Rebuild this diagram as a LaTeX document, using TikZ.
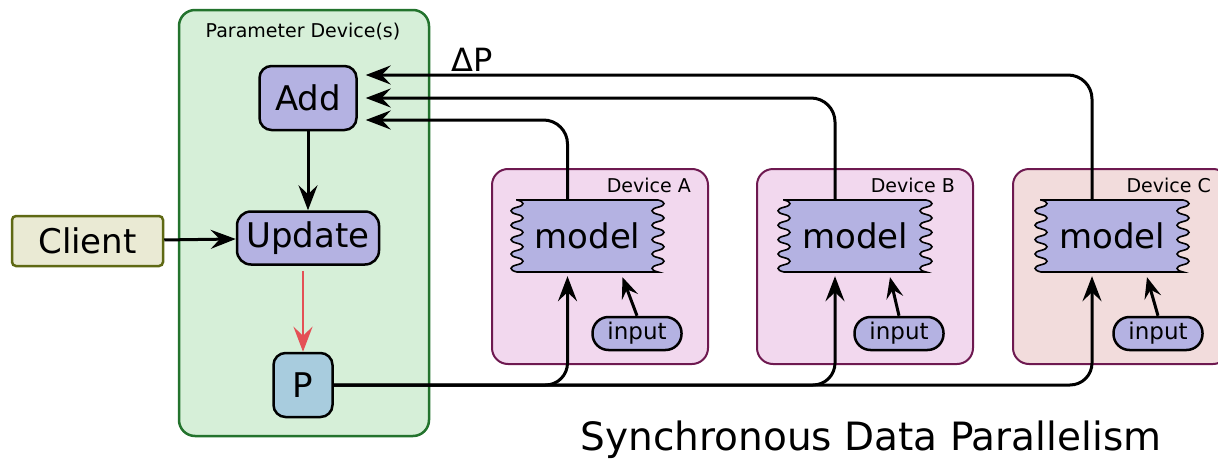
\documentclass[tikz,border=0pt]{standalone}
\usepackage{fontspec}
\setmainfont{DejaVu Sans}
\usetikzlibrary{arrows.meta,positioning}
\definecolor{pgreen}{RGB}{214,239,216}
\definecolor{pgreenline}{RGB}{35,115,45}
\definecolor{lavender}{RGB}{180,178,226}
\definecolor{pblue}{RGB}{168,204,222}
\definecolor{clientfill}{RGB}{234,234,212}
\definecolor{clientline}{RGB}{95,105,20}
\definecolor{devpink}{RGB}{242,216,238}
\definecolor{devsalmon}{RGB}{242,220,220}
\definecolor{devline}{RGB}{110,25,80}
\definecolor{updred}{RGB}{228,80,85}

\begin{document}
\begin{tikzpicture}[x=1pt, y=-1pt, >={Stealth[length=25pt, width=19pt, inset=9pt]}]
    \tikzstyle{op} = [rectangle, rounded corners=12pt, draw=black, line width=2.5pt, fill=lavender, inner sep=0pt, font=\fontsize{34}{40}\selectfont]
    \tikzstyle{device} = [rectangle, rounded corners=16pt, draw=devline, line width=2pt, fill=devpink, minimum width=216pt, minimum height=195pt]
    \tikzstyle{devlabel} = [anchor=base east, inner sep=0pt, font=\fontsize{19}{22}\selectfont]
    \tikzstyle{wavy} = [fill=lavender, draw=black, line width=1.6pt]
    \tikzstyle{model} = [rectangle, minimum width=145pt, minimum height=72pt, inner sep=0pt, font=\fontsize{34}{40}\selectfont]
    \tikzstyle{input} = [rectangle, rounded corners=16pt, draw=black, line width=2.5pt, fill=lavender, minimum width=89pt, minimum height=33pt, inner sep=0pt, font=\fontsize{23}{26}\selectfont]
    \tikzstyle{flow} = [->, line width=3pt, rounded corners=24pt]
    \tikzstyle{feed} = [->, line width=3pt, >={Stealth[length=21pt, width=17pt, inset=8pt]}]

    \useasboundingbox (0,0) rectangle (1218,463);

    % Parameter device
    \node [rectangle, rounded corners=16pt, draw=pgreenline, line width=2.5pt, fill=pgreen, minimum width=250pt, minimum height=426pt] (param) at (304,223) {};
    \node [anchor=base, inner sep=0pt, font=\fontsize{19}{22}\selectfont] (paramlabel) at (303,37) {Parameter Device(s)};
    \node [op, minimum width=97pt, minimum height=64pt] (add) at (308,98) {Add};
    \node [op, minimum width=142pt, minimum height=53pt, rounded corners=14pt, below of=add, node distance=140pt] (update) {Update};
    \node [op, fill=pblue, minimum width=59pt, minimum height=64pt, below of=update, node distance=147pt, xshift=-5pt] (p) {P};

    % Client
    \node [rectangle, rounded corners=4pt, draw=clientline, line width=2.5pt, fill=clientfill, minimum width=151pt, minimum height=50pt, font=\fontsize{34}{40}\selectfont] (client) at (87.5,241) {Client};

    % Worker devices
    \node [device] (devA) at (600,266.5) {};
    \node [device, right of=devA, node distance=265pt] (devB) {};
    \node [device, fill=devsalmon, right of=devB, node distance=256pt] (devC) {};
    \node [devlabel] (labA) at (691,192) {Device A};
    \node [devlabel] (labB) at (955,192) {Device B};
    \node [devlabel] (labC) at (1211,192) {Device C};

    % Models (wavy sides)
    \filldraw [wavy] (517,200) -- (658,200)
        \foreach \i in {1,...,5} { .. controls +(8,1.8) and +(8,-1.8) .. ++(0,7.2) .. controls +(-8,1.8) and +(-8,-1.8) .. ++(0,7.2)}
        -- (517,272)
        \foreach \i in {1,...,5} { .. controls +(-8,-1.8) and +(-8,1.8) .. ++(0,-7.2) .. controls +(8,-1.8) and +(8,1.8) .. ++(0,-7.2)} -- cycle;
    \filldraw [wavy] (784,200) -- (926,200)
        \foreach \i in {1,...,5} { .. controls +(8,1.8) and +(8,-1.8) .. ++(0,7.2) .. controls +(-8,1.8) and +(-8,-1.8) .. ++(0,7.2)}
        -- (784,272)
        \foreach \i in {1,...,5} { .. controls +(-8,-1.8) and +(-8,1.8) .. ++(0,-7.2) .. controls +(8,-1.8) and +(8,1.8) .. ++(0,-7.2)} -- cycle;
    \filldraw [wavy] (1041,200) -- (1183,200)
        \foreach \i in {1,...,5} { .. controls +(8,1.8) and +(8,-1.8) .. ++(0,7.2) .. controls +(-8,1.8) and +(-8,-1.8) .. ++(0,7.2)}
        -- (1041,272)
        \foreach \i in {1,...,5} { .. controls +(-8,-1.8) and +(-8,1.8) .. ++(0,-7.2) .. controls +(8,-1.8) and +(8,1.8) .. ++(0,-7.2)} -- cycle;
    \node [model] (modelA) at (587.5,236) {model};
    \node [model] (modelB) at (855,236) {model};
    \node [model] (modelC) at (1112,236) {model};

    % Inputs
    \node [input] (inputA) at (637,333.5) {input};
    \node [input] (inputB) at (899,333.5) {input};
    \node [input] (inputC) at (1158,333.5) {input};

    % Connections
    \draw [->, line width=3pt] (add) -- (update);
    \draw [->, line width=2.5pt, updred] ([yshift=-5pt]update.south -| p.north) -- (p);
    \draw [->, line width=3pt] (client) -- (update);

    \draw [flow] ([xshift=-20pt]modelA.north) |- ([xshift=8pt,yshift=-22pt]add.east);
    \draw [flow] ([xshift=-20pt]modelB.north) |- ([xshift=8pt]add.east);
    \draw [flow] ([xshift=-20pt]modelC.north) |- ([xshift=8pt,yshift=23pt]add.east);

    \draw [flow, rounded corners=22pt] (p.east) -| ([xshift=-20pt,yshift=-4pt]modelA.south);
    \draw [flow, rounded corners=22pt] (p.east) -| ([xshift=-20pt,yshift=-4pt]modelB.south);
    \draw [flow, rounded corners=22pt] (p.east) -| ([xshift=-20pt,yshift=-4pt]modelC.south);

    \draw [feed] (inputA.north) -- ([xshift=35pt,yshift=-5pt]modelA.south);
    \draw [feed] (inputB.north) -- ([xshift=35pt,yshift=-5pt]modelB.south);
    \draw [feed] (inputC.north) -- ([xshift=35pt,yshift=-5pt]modelC.south);

    % Labels
    \node [font=\fontsize{32}{38}\selectfont] (delta) at (472,60) {ΔP};
    \node [font=\fontsize{39}{46}\selectfont] (title) at (871,440) {Synchronous Data Parallelism};
\end{tikzpicture}
\end{document}
